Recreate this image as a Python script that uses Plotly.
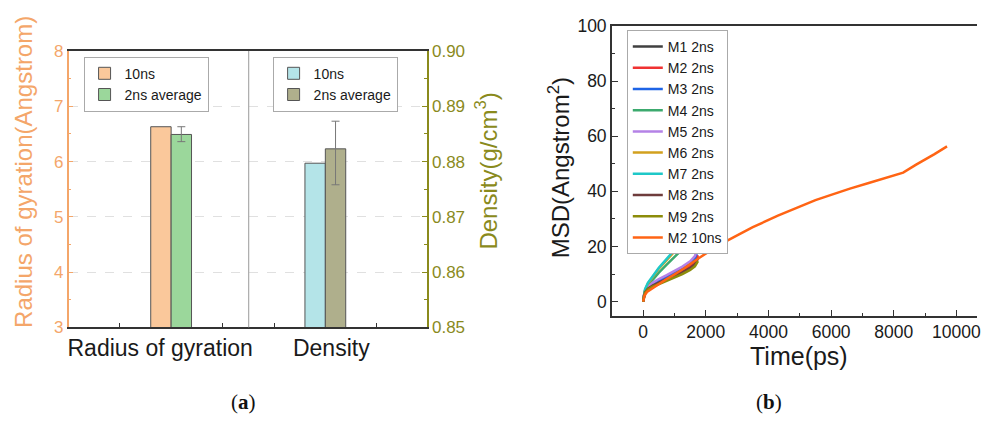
import plotly.graph_objects as go

W, H = 981, 427

# ---------------- data: panel (a) ----------------
categories = ["Radius of gyration", "Density"]
series_names = ["10ns", "2ns average"]
rg_values = [6.63, 6.49]          # 10ns, 2ns average
rg_err_plus = [0.14]
rg_err_minus = [0.13]
dens_values = [0.8797, 0.8823]    # 10ns, 2ns average
dens_err_plus = [0.0050]
dens_err_minus = [0.0065]

# ---------------- data: panel (b) ----------------
msd_names = ["M1 2ns", "M2 2ns", "M3 2ns", "M4 2ns", "M5 2ns",
             "M6 2ns", "M7 2ns", "M8 2ns", "M9 2ns", "M2 10ns"]
t_2ns = [0, 20, 60, 150, 300, 500, 750, 1000, 1250, 1500, 1650, 1750]
m1 = [0, 2.0, 3.6, 5.0, 6.2, 7.3, 8.6, 10.0, 11.4, 13.0, 14.3, 16.3]
m2 = [0, 2.0, 3.5, 4.9, 6.0, 7.2, 8.5, 9.9, 11.3, 12.9, 14.4, 16.8]
m3 = [0, 2.1, 3.7, 5.2, 6.5, 7.8, 9.1, 10.5, 12.0, 13.8, 15.6, 18.9]
m4 = [0, 2.2, 4.0, 5.9, 8.0, 10.5, 13.4, 16.3, 19.0, 21.7, 23.5, 25.2]
m5 = [0, 2.2, 3.8, 5.4, 6.8, 8.2, 9.6, 11.1, 12.7, 14.6, 16.5, 19.8]
m6 = [0, 2.4, 4.3, 6.5, 9.0, 12.0, 15.0, 18.2, 20.8, 23.6, 25.8, 27.8]
m7 = [0, 2.5, 4.5, 6.8, 9.3, 12.3, 15.5, 18.8, 21.3, 24.2, 26.5, 28.5]
m8 = [0, 1.9, 3.4, 4.7, 5.8, 6.9, 8.1, 9.4, 10.7, 12.2, 13.6, 15.6]
m9 = [0, 1.8, 3.2, 4.4, 5.4, 6.4, 7.5, 8.7, 10.0, 11.5, 12.8, 14.7]
t_10ns = [0, 40, 120, 250, 500, 750, 1000, 1300, 1700, 2000, 2400, 3000, 3500,
          4300, 5000, 5500, 6000, 6600, 7200, 7700, 8300, 8700, 9000, 9300, 9700]
m2_10ns = [0, 2.1, 3.5, 4.5, 6.4, 8.2, 9.9, 12.0, 15.2, 17.4, 20.4, 24.0, 27.0,
           31.2, 34.6, 36.8, 38.7, 41.0, 43.0, 44.7, 46.8, 49.6, 51.5, 53.5, 56.3]
msd_2ns = [m1, m2, m3, m4, m5, m6, m7, m8, m9]

# ---------------- styles ----------------
FONT = "Liberation Sans, Arial, sans-serif"
ORANGE = "#F4A66A"
OLIVE = "#8A8A1C"
AXIS = "#333333"
bar_colors_rg = ["#FAC89B", "#9BD79B"]
bar_colors_dens = ["#B4E4E8", "#AFAF8C"]
msd_colors = ["#404040", "#F03232", "#1E64E6", "#3CAA6E", "#B482E6",
              "#D2A01E", "#1EC8C8", "#6E3C3C", "#8C8C0A", "#FF6414"]


def px_x(p):
    return p / W


def px_y(p):
    return 1 - p / H


# panel (a) axis geometry (axis units = pixels from left axis)
group_pos = [103, 258]
label_pos = [92, 264]
bar_w = 20.5

fig = go.Figure()

for i, name in enumerate(series_names):
    err = None
    if i == 1:
        err = dict(type="data", symmetric=False, array=rg_err_plus,
                   arrayminus=rg_err_minus, color="#777", thickness=1, width=4)
    fig.add_trace(go.Bar(
        x=[group_pos[0]], y=[rg_values[i]], name=name,
        offset=-bar_w if i == 0 else 0, width=bar_w,
        marker=dict(color=bar_colors_rg[i], line=dict(color="#555", width=1)),
        error_y=err, xaxis="x", yaxis="y", legend="legend"))

for i, name in enumerate(series_names):
    err = None
    if i == 1:
        err = dict(type="data", symmetric=False, array=dens_err_plus,
                   arrayminus=dens_err_minus, color="#777", thickness=1, width=4)
    fig.add_trace(go.Bar(
        x=[group_pos[1]], y=[dens_values[i]], name=name,
        offset=-bar_w if i == 0 else 0, width=bar_w,
        marker=dict(color=bar_colors_dens[i], line=dict(color="#555", width=1)),
        error_y=err, xaxis="x2", yaxis="y2", legend="legend2"))

for i, ys in enumerate(msd_2ns):
    fig.add_trace(go.Scatter(
        x=t_2ns, y=ys, mode="lines", name=msd_names[i],
        line=dict(color=msd_colors[i], width=2.5),
        xaxis="x3", yaxis="y3", legend="legend3"))
fig.add_trace(go.Scatter(
    x=t_10ns, y=m2_10ns, mode="lines", name=msd_names[9],
    line=dict(color=msd_colors[9], width=2.5),
    xaxis="x3", yaxis="y3", legend="legend3"))

dom_a_x = [px_x(68), px_x(428)]
dom_a_y = [px_y(333), px_y(43)]
dom_b_x = [px_x(614), 1.0]
dom_b_y = [px_y(320.7), px_y(16.7)]
t_range = [-1000, 10657]

fig.update_layout(
    width=W, height=H, margin=dict(l=0, r=0, t=0, b=0),
    paper_bgcolor="white", plot_bgcolor="rgba(0,0,0,0)",
    font=dict(family=FONT, color="#222"),
    barmode="overlay",
    xaxis=dict(domain=dom_a_x, range=[0, 360], anchor="y",
               tickvals=[51, 155, 207, 309], showticklabels=False,
               ticks="inside", ticklen=5, tickcolor=AXIS,
               showline=True, linecolor=AXIS, linewidth=1.5, mirror=True,
               showgrid=False, zeroline=False),
    xaxis2=dict(overlaying="x", anchor="y2", side="bottom", range=[0, 360],
                tickvals=label_pos, ticktext=categories,
                tickfont=dict(size=23, color="#1a1a1a"), ticks="",
                ticklabelstandoff=5,
                showline=False, showgrid=False, zeroline=False),
    yaxis=dict(domain=dom_a_y, range=[3, 8], dtick=1, anchor="x",
               tickfont=dict(size=17, color=ORANGE),
               showline=True, linecolor=ORANGE, linewidth=1.5,
               ticks="inside", ticklen=5, tickcolor=ORANGE,
               minor=dict(dtick=0.5, ticks="inside", ticklen=3,
                          tickcolor=ORANGE, showgrid=False),
               showgrid=True, gridcolor="#e0e0e0", griddash="dash",
               gridwidth=1, zeroline=False),
    yaxis2=dict(overlaying="y", side="right", anchor="x", range=[0.85, 0.90],
                dtick=0.01, tickformat=".2f",
                tickfont=dict(size=17, color=OLIVE),
                showline=True, linecolor=OLIVE, linewidth=1.5,
                ticks="inside", ticklen=5, tickcolor=OLIVE,
                minor=dict(dtick=0.005, ticks="inside", ticklen=3,
                           tickcolor=OLIVE, showgrid=False),
                showgrid=False, zeroline=False),
    xaxis3=dict(domain=dom_b_x, anchor="y3", range=t_range,
                tick0=0, dtick=2000, tickformat="d",
                ticklabeloverflow="allow",
                tickfont=dict(size=17.5, color="#1a1a1a"),
                ticks="inside", ticklen=6, tickcolor=AXIS,
                minor=dict(dtick=1000, ticks="inside", ticklen=3,
                           tickcolor=AXIS, showgrid=False),
                showline=True, linecolor=AXIS, linewidth=1.5, mirror=True,
                showgrid=False, zeroline=False),
    xaxis4=dict(overlaying="x3", anchor="y3", side="top", range=t_range,
                tickvals=[1000, 3000, 5000, 7000, 9000],
                showticklabels=False, ticks="inside", ticklen=3,
                tickcolor=AXIS, showline=False, showgrid=False, zeroline=False),
    yaxis3=dict(domain=dom_b_y, anchor="x3", range=[-5.1, 100],
                dtick=20, tickfont=dict(size=17.5, color="#1a1a1a"),
                ticks="inside", ticklen=6, tickcolor=AXIS,
                minor=dict(dtick=10, ticks="inside", ticklen=3,
                           tickcolor=AXIS, showgrid=False),
                showline=True, linecolor=AXIS, linewidth=1.5,
                showgrid=False, zeroline=False),
    legend=dict(x=px_x(83), y=px_y(49), xanchor="left", yanchor="top",
                font=dict(size=14, color="#1a1a1a"), bgcolor="white",
                bordercolor="#aaaaaa", borderwidth=1, tracegroupgap=0),
    legend2=dict(x=px_x(273), y=px_y(49), xanchor="left", yanchor="top",
                 font=dict(size=14, color="#1a1a1a"), bgcolor="white",
                 bordercolor="#aaaaaa", borderwidth=1, tracegroupgap=0),
    legend3=dict(x=px_x(629), y=px_y(21), xanchor="left", yanchor="top",
                 font=dict(size=14, color="#1a1a1a"), bgcolor="white",
                 bordercolor="#aaaaaa", borderwidth=1, tracegroupgap=0),
    showlegend=True,
)

fig.add_shape(type="line", xref="x", yref="y domain", x0=181, x1=181,
              y0=0, y1=1, line=dict(color="#999999", width=1))

annos = [
    dict(x=px_x(22), y=px_y(170), text="Radius of gyration(Angstrom)",
         textangle=-90, font=dict(size=24, color=ORANGE)),
    dict(x=px_x(488), y=px_y(169), text="Density(g/cm<sup>3</sup>)",
         textangle=-90, font=dict(size=24, color=OLIVE)),
    dict(x=px_x(561), y=px_y(166), text="MSD(Angstrom<sup>2</sup>)",
         textangle=-90, font=dict(size=24, color="#1a1a1a")),
    dict(x=px_x(802), y=px_y(363), text="Time(ps)",
         font=dict(size=25, color="#1a1a1a")),
    dict(x=px_x(244), y=px_y(411), text="(<b>a</b>)",
         font=dict(size=21, color="#111", family="Liberation Serif, serif")),
    dict(x=px_x(772), y=px_y(411), text="(<b>b</b>)",
         font=dict(size=21, color="#111", family="Liberation Serif, serif")),
]
for a in annos:
    fig.add_annotation(xref="paper", yref="paper", showarrow=False,
                       xanchor="center", yanchor="middle", **a)

fig.write_html("out.html")
